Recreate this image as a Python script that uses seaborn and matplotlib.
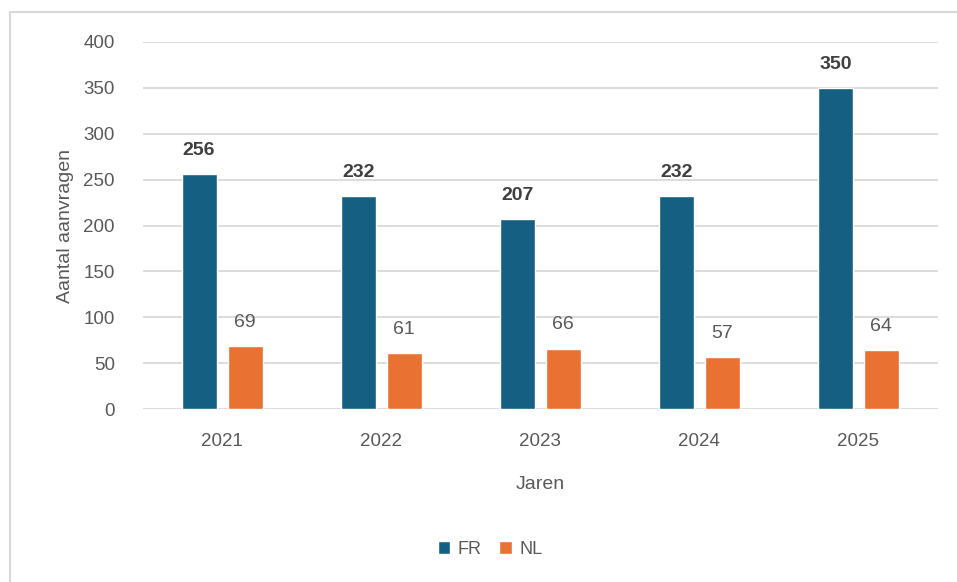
import matplotlib
matplotlib.use("Agg")
import matplotlib.pyplot as plt
import seaborn as sns
import pandas as pd
from matplotlib.lines import Line2D

years = ["2021", "2022", "2023", "2024", "2025"]
fr_values = [256, 232, 207, 232, 350]
nl_values = [69, 61, 66, 57, 64]
series = ["FR", "NL"]
colors = {"FR": "#156082", "NL": "#E97132"}

df = pd.DataFrame({
    "Jaren": years * 2,
    "Aantal": fr_values + nl_values,
    "Taal": ["FR"] * len(years) + ["NL"] * len(years),
})

sns.set_theme(style="white")
plt.rcParams['font.family'] = ['Liberation Sans', 'DejaVu Sans']
txt = "#595959"

fig = plt.figure(figsize=(9.57, 5.82), dpi=100)
ax = fig.add_axes([0.149, 0.297, 0.831, 0.631])
sns.barplot(data=df, x="Jaren", y="Aantal", hue="Taal", order=years,
            hue_order=series, palette=colors, width=0.58, gap=0.24,
            saturation=1, ax=ax, legend=True)

ax.set_ylim(0, 400)
ax.set_yticks(range(0, 401, 50))
ax.yaxis.grid(True, color="#D9D9D9", linewidth=1.3)
ax.set_axisbelow(True)
for s in ax.spines.values():
    s.set_visible(False)
ax.tick_params(axis="both", colors=txt, labelsize=13.5, length=0)
ax.tick_params(axis="y", pad=20)
ax.tick_params(axis="x", pad=17)
ax.set_xlabel("Jaren", color=txt, fontsize=14, labelpad=19)
ax.set_ylabel("Aantal aanvragen", color=txt, fontsize=14, labelpad=7)

for cont, name in zip(ax.containers, series):
    if name == "FR":
        ax.bar_label(cont, labels=[str(v) for v in fr_values], padding=11,
                     fontsize=14, fontweight="bold", color="#404040")
    else:
        ax.bar_label(cont, labels=[str(v) for v in nl_values], padding=11,
                     fontsize=14, color=txt)

leg = ax.legend(loc="center", ncol=2, frameon=False, fontsize=13,
                handlelength=0.7, handleheight=0.7,
                handletextpad=0.4, columnspacing=1.0, labelcolor=txt)
leg.set_bbox_to_anchor((490 / 957, 1 - 549 / 582), transform=fig.transFigure)

# Card edge: only top and left borders visible
top_y = 1 - 12 / 582
left_x = 9.5 / 957
fig.add_artist(Line2D([left_x, 1.0], [top_y, top_y], transform=fig.transFigure,
                      color="#D9D9D9", linewidth=1.5))
fig.add_artist(Line2D([left_x, left_x], [0.0, top_y], transform=fig.transFigure,
                      color="#D9D9D9", linewidth=1.5))

fig.savefig("out.png", dpi=100)
